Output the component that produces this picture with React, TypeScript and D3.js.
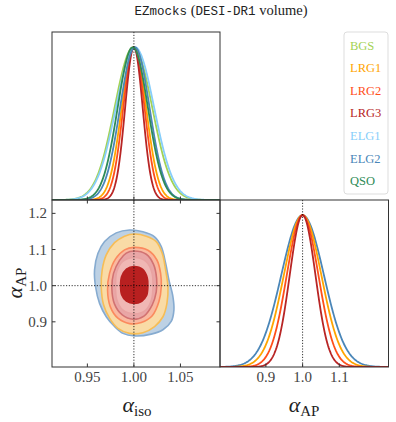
import React from "react";
import * as d3 from "d3";

// tracers, in legend order
const tracers = ["BGS", "LRG1", "LRG2", "LRG3", "ELG1", "ELG2", "QSO"];
const colors = ["#a3d254", "#ffa500", "#ff4f1a", "#b82525", "#87cefa", "#4a86b8", "#2e8b57"];

// 1D posterior of alpha_iso: centre and width
const isoMean = [0.9995, 1.0, 1.0, 1.0, 1.0012, 1.001, 0.9988];
const isoSigma = [0.0202, 0.0131, 0.0114, 0.0094, 0.0205, 0.0158, 0.0162];

// 1D posterior of alpha_AP (only the anisotropic fits)
const apTracers = ["ELG2", "LRG1", "LRG2", "LRG3"];
const apMean = [1.0, 1.0, 1.0, 1.0];
const apSigma = [0.058, 0.051, 0.043, 0.035];

// tick labels
const isoTicks = [0.95, 1.0, 1.05];
const apTicksY = [0.9, 1.0, 1.1, 1.2];
const apTicksX = [0.9, 1.0, 1.1];

// 2D contours [alpha_iso, alpha_AP]
const contourELG2_95 = [
  [0.9953, 1.154], [1.0097, 1.149], [1.0222, 1.135], [1.0294, 1.108], [1.0341, 1.062],
  [1.0376, 1.016], [1.0419, 0.97], [1.043, 0.933], [1.0401, 0.901], [1.0312, 0.878],
  [1.0186, 0.866], [1.0007, 0.861], [0.9882, 0.868], [0.9792, 0.887], [0.9703, 0.914],
  [0.9631, 0.951], [0.9588, 0.997], [0.9577, 1.043], [0.9613, 1.089], [0.9685, 1.122],
  [0.981, 1.146],
];
const contourLRG1_95 = [
  [1.0007, 1.143], [1.0133, 1.137], [1.024, 1.122], [1.0305, 1.089], [1.0341, 1.043],
  [1.0366, 0.997], [1.0355, 0.951], [1.0312, 0.914], [1.0222, 0.887], [1.0097, 0.87],
  [0.9953, 0.868], [0.9828, 0.882], [0.9738, 0.91], [0.9674, 0.947], [0.9649, 0.997],
  [0.9659, 1.043], [0.9703, 1.085], [0.9792, 1.119], [0.99, 1.137],
];
const contourLRG2_95 = [
  [1.0, 1.106], [1.0151, 1.098], [1.0247, 1.071], [1.0287, 1.034], [1.0294, 0.997],
  [1.0269, 0.956], [1.0197, 0.917], [1.0079, 0.898], [0.9953, 0.895], [0.9828, 0.91],
  [0.9746, 0.942], [0.9717, 0.988], [0.9738, 1.034], [0.9803, 1.074], [0.99, 1.099],
];
const contourLRG3_95 = [
  [1.0, 1.096], [1.0133, 1.087], [1.0211, 1.059], [1.0244, 1.02], [1.024, 0.983],
  [1.0197, 0.947], [1.0108, 0.916], [0.9989, 0.907], [0.9875, 0.919], [0.9792, 0.949],
  [0.9763, 0.993], [0.9781, 1.034], [0.9846, 1.07], [0.9918, 1.09],
];
const contourLRG2_68 = [
  [1.0003, 1.078], [1.0135, 1.066], [1.0195, 1.035], [1.0205, 1.0], [1.019, 0.962],
  [1.0125, 0.932], [1.0003, 0.922], [0.988, 0.933], [0.9815, 0.962], [0.9803, 1.0],
  [0.9815, 1.038], [0.988, 1.067],
];
const contourLRG3_68 = [
  [1.0003, 1.053], [1.0095, 1.045], [1.0143, 1.022], [1.015, 0.998], [1.0135, 0.972],
  [1.0085, 0.957], [1.0003, 0.951], [0.992, 0.957], [0.9868, 0.975], [0.9857, 1.0],
  [0.9868, 1.025], [0.992, 1.046],
];

const contours = [
  { pts: contourELG2_95, fill: "#bdd1e4", stroke: "#86abd0" },
  { pts: contourLRG1_95, fill: "#f9dba6", stroke: "#f7bd55" },
  { pts: contourLRG2_95, fill: "#fab9a0", stroke: "#fb8a5e" },
  { pts: contourLRG3_95, fill: "#e9a6a6", stroke: "#d27272" },
  { pts: contourLRG2_68, fill: "#f0b7b4", stroke: "#e8a3a2" },
  { pts: contourLRG3_68, fill: "#b82020", stroke: "#b82020" },
];

const serif = "Liberation Serif, DejaVu Serif, serif";
const mono = "Liberation Mono, DejaVu Sans Mono, monospace";
const ink = "#333";

export default function App() {
  const L = 52, M = 220, R = 388.5, T = 32, C = 200, B = 367;

  const xIso = d3.scaleLinear().domain([0.912, 1.0925]).range([L, M]);
  const xAp = d3.scaleLinear().domain([0.775, 1.234]).range([M, R]);
  const yAp = d3.scaleLinear().domain([0.775, 1.237]).range([B, C]);
  const yTop = d3.scaleLinear().domain([0, 1.1]).range([C, T]);
  const yRight = d3.scaleLinear().domain([0, 1.1]).range([B, C]);

  const gauss = (x: number, m: number, s: number) => Math.exp(-0.5 * ((x - m) / s) ** 2);

  const isoGrid = d3.range(0.912, 1.0926, 0.0005);
  const apGrid = d3.range(0.775, 1.2341, 0.002);

  const isoLine = (i: number) =>
    d3.line<number>()
      .x((v) => xIso(v))
      .y((v) => yTop(gauss(v, isoMean[i], isoSigma[i])))(isoGrid) || "";
  const apLine = (i: number) =>
    d3.line<number>()
      .x((v) => xAp(v))
      .y((v) => yRight(gauss(v, apMean[i], apSigma[i])))(apGrid) || "";

  const contourPath = d3.line<number[]>()
    .x((d) => xIso(d[0]))
    .y((d) => yAp(d[1]))
    .curve(d3.curveCatmullRomClosed);

  const tick = 3.5;
  const serifStyle = { fontFamily: serif };
  const monoStyle = { fontFamily: mono };

  return (
    <svg width={396} height={422} style={{ position: "absolute", left: 0, top: 0, fontFamily: serif }}>
      <rect width={396} height={422} fill="#fff" />

      {/* title */}
      <text x={221} y={15} textAnchor="middle" fontSize={14.5} fill="#222" style={serifStyle}>
        <tspan style={monoStyle} fontSize={12.5}>EZmocks</tspan>
        <tspan> (</tspan>
        <tspan style={monoStyle} fontSize={12.5}>DESI-DR1</tspan>
        <tspan> volume)</tspan>
      </text>

      {/* top-left: alpha_iso 1D */}
      <clipPath id="clipTL"><rect x={L} y={T} width={M - L} height={C - T} /></clipPath>
      <g clipPath="url(#clipTL)">
        {tracers.map((t, i) => (
          <path key={t} d={isoLine(i)} fill="none" stroke={colors[i]} strokeWidth={1.8} />
        ))}
      </g>
      <line x1={xIso(1)} x2={xIso(1)} y1={T} y2={C} stroke="#000" strokeWidth={0.8} strokeDasharray="1.2,1.6" />
      <rect x={L} y={T} width={M - L} height={C - T} fill="none" stroke={ink} strokeWidth={1} />
      {isoTicks.map((v) => (
        <line key={"tt" + v} x1={xIso(v)} x2={xIso(v)} y1={C} y2={C - tick} stroke={ink} />
      ))}

      {/* bottom-left: 2D contours */}
      <clipPath id="clipBL"><rect x={L} y={C} width={M - L} height={B - C} /></clipPath>
      <g clipPath="url(#clipBL)">
        {contours.map((c, i) => (
          <path key={i} d={contourPath(c.pts) || ""} fill={c.fill} stroke={c.stroke} strokeWidth={1.6} />
        ))}
      </g>
      <line x1={xIso(1)} x2={xIso(1)} y1={C} y2={B} stroke="#000" strokeWidth={0.8} strokeDasharray="1.2,1.6" />
      <line x1={L} x2={M} y1={yAp(1)} y2={yAp(1)} stroke="#000" strokeWidth={0.8} strokeDasharray="1.2,1.6" />
      <rect x={L} y={C} width={M - L} height={B - C} fill="none" stroke={ink} strokeWidth={1} />
      {isoTicks.map((v) => (
        <g key={"bl" + v}>
          <line x1={xIso(v)} x2={xIso(v)} y1={C} y2={C + tick} stroke={ink} />
          <line x1={xIso(v)} x2={xIso(v)} y1={B} y2={B - tick} stroke={ink} />
          <text x={xIso(v)} y={382} textAnchor="middle" fontSize={15} fill="#444" style={serifStyle}>
            {v.toFixed(2)}
          </text>
        </g>
      ))}
      {apTicksY.map((v) => (
        <g key={"ly" + v}>
          <line x1={L} x2={L + tick} y1={yAp(v)} y2={yAp(v)} stroke={ink} />
          <line x1={M} x2={M - tick} y1={yAp(v)} y2={yAp(v)} stroke={ink} />
          <text x={47} y={yAp(v) + 5} textAnchor="end" fontSize={15} fill="#444" style={serifStyle}>
            {v.toFixed(1)}
          </text>
        </g>
      ))}

      {/* bottom-right: alpha_AP 1D */}
      <clipPath id="clipBR"><rect x={M} y={C} width={R - M} height={B - C} /></clipPath>
      <g clipPath="url(#clipBR)">
        {apTracers.map((t, i) => (
          <path key={t} d={apLine(i)} fill="none" stroke={colors[tracers.indexOf(t)]} strokeWidth={1.8} />
        ))}
      </g>
      <line x1={xAp(1)} x2={xAp(1)} y1={C} y2={B} stroke="#000" strokeWidth={0.8} strokeDasharray="1.2,1.6" />
      <rect x={M} y={C} width={R - M} height={B - C} fill="none" stroke={ink} strokeWidth={1} />
      {apTicksX.map((v) => (
        <g key={"br" + v}>
          <line x1={xAp(v)} x2={xAp(v)} y1={B} y2={B - tick} stroke={ink} />
          <text x={xAp(v)} y={382} textAnchor="middle" fontSize={15} fill="#444" style={serifStyle}>
            {v.toFixed(1)}
          </text>
        </g>
      ))}

      {/* axis labels */}
      <text x={137} y={412} textAnchor="middle" fontSize={22} fill="#222" style={serifStyle}>
        <tspan fontStyle="italic">α</tspan>
        <tspan fontSize={15} dy={4}>iso</tspan>
      </text>
      <text x={304} y={412} textAnchor="middle" fontSize={22} fill="#222" style={serifStyle}>
        <tspan fontStyle="italic">α</tspan>
        <tspan fontSize={15} dy={4}>AP</tspan>
      </text>
      <text transform="translate(22,283) rotate(-90)" textAnchor="middle" fontSize={22} fill="#222" style={serifStyle}>
        <tspan fontStyle="italic">α</tspan>
        <tspan fontSize={15} dy={4}>AP</tspan>
      </text>

      {/* legend */}
      <rect x={344} y={32} width={44} height={162} rx={3} fill="#fff" fillOpacity={0.8} stroke="#ddd" />
      {tracers.map((t, i) => (
        <text key={"lg" + t} x={350} y={49.5 + i * 22.6} fontSize={12.5} fill={colors[i]} style={serifStyle}>
          {t}
        </text>
      ))}
    </svg>
  );
}
